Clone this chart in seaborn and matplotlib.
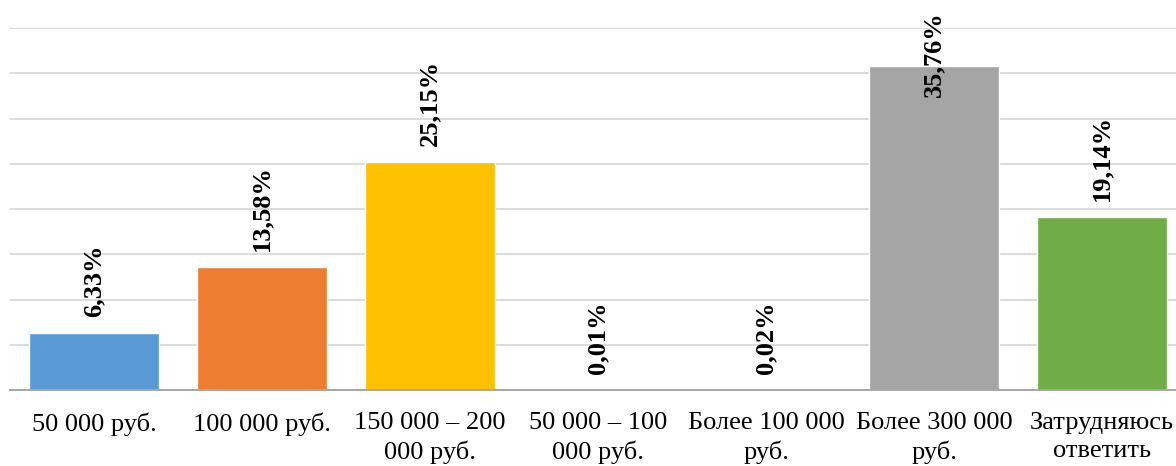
import matplotlib
matplotlib.use("Agg")
import matplotlib.pyplot as plt
import seaborn as sns
import pandas as pd

categories = [
    "50 000 руб.",
    "100 000 руб.",
    "150 000 – 200\n000 руб.",
    "50 000 – 100\n000 руб.",
    "Более 100 000\nруб.",
    "Более 300 000\nруб.",
    "Затрудняюсь\nответить",
]
shares = [6.33, 13.58, 25.15, 0.01, 0.02, 35.76, 19.14]
bar_colors = ["#5B9BD5", "#ED7D31", "#FFC000", "#4472C4", "#264478", "#A5A5A5", "#70AD47"]

sns.set_theme(style="white")
plt.rcParams["font.family"] = ["Liberation Serif", "DejaVu Serif"]

df = pd.DataFrame({"category": categories, "share": shares})

fig = plt.figure(figsize=(11.76, 4.66), dpi=100)
ax = fig.add_axes([10 / 1176, 1 - 390 / 466, 1.0, (390 - 28) / 466])

sns.barplot(data=df, x="category", y="share", hue="category", palette=bar_colors,
            width=0.77, saturation=1, legend=False, ax=ax, zorder=3)

ax.set_xlim(-0.5, 6.5)
ax.set_ylim(0, 40)
ax.set_yticks(range(0, 41, 5))
ax.set_yticklabels([])
ax.yaxis.grid(True, color="#D9D9D9", linewidth=1.3, zorder=0)
ax.xaxis.grid(False)
ax.tick_params(axis="y", length=0)

for side in ("top", "right", "left"):
    ax.spines[side].set_visible(False)
ax.spines["bottom"].set_color("#A6A6A6")
ax.spines["bottom"].set_linewidth(1.4)
ax.spines["bottom"].set_zorder(4)

# category labels centred under bars, tick marks on category boundaries
ax.set_xticks(range(len(categories)))
ax.set_xticklabels(categories, fontsize=19, linespacing=1.35, color="#000000")
ax.tick_params(axis="x", which="major", length=0, pad=16)
ax.set_xticks([i - 0.5 for i in range(len(categories) + 1)], minor=True)
ax.tick_params(axis="x", which="minor", length=7, width=1.4, color="#A6A6A6", direction="out")
ax.set_xlabel("")
ax.set_ylabel("")

# value labels above bars; a label that would run off the top is pinned to it
label_room = 11.5
for i, v in enumerate(shares):
    text = f"{v:.2f}".replace(".", ",") + "%"
    if v + label_room > ax.get_ylim()[1]:
        ax.annotate(text, xy=(i, ax.get_ylim()[1]), xytext=(0, 17), textcoords="offset pixels",
                    rotation=90, ha="center", va="top", fontsize=19, fontweight="bold",
                    color="#000000", zorder=5)
    else:
        ax.annotate(text, xy=(i, v), xytext=(0, 16), textcoords="offset pixels",
                    rotation=90, ha="center", va="bottom", fontsize=19, fontweight="bold",
                    color="#000000", zorder=5)

fig.savefig("out.png", dpi=100, facecolor="white")
